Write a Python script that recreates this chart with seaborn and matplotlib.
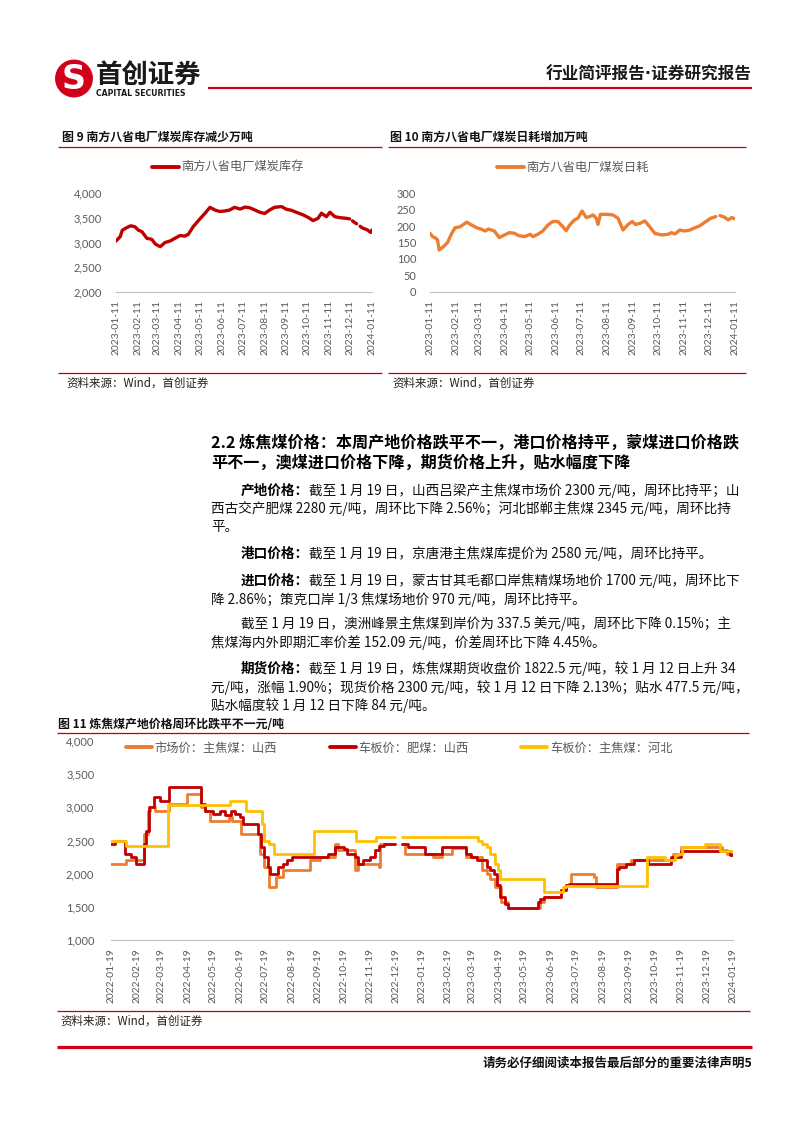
import numpy as np
import pandas as pd
import matplotlib
matplotlib.use("Agg")
import matplotlib.pyplot as plt
import matplotlib.dates as mdates
from matplotlib.lines import Line2D
from matplotlib.patches import Circle
from matplotlib.ticker import FuncFormatter, MultipleLocator
import seaborn as sns

# ------------------------------------------------------------------ data
# Fig 9: 南方八省电厂煤炭库存 (万吨); NaN marks a gap in the line
inv_dates = ["2023-01-11", "2023-01-17", "2023-01-20", "2023-01-26", "2023-02-01", "2023-02-07",
             "2023-02-12", "2023-02-17", "2023-02-24", "2023-03-03", "2023-03-08", "2023-03-15",
             "2023-03-22", "2023-03-29", "2023-04-05", "2023-04-12", "2023-04-19", "2023-04-24",
             "2023-05-01", "2023-05-10", "2023-05-18", "2023-05-25", "2023-06-01", "2023-06-08",
             "2023-06-15", "2023-06-22", "2023-06-29", "2023-07-07", "2023-07-14", "2023-07-21",
             "2023-07-28", "2023-08-04", "2023-08-11", "2023-08-18", "2023-08-25", "2023-09-04",
             "2023-09-11", "2023-09-18", "2023-09-25", "2023-10-05", "2023-10-12", "2023-10-19",
             "2023-10-26", "2023-10-31", "2023-11-07", "2023-11-12", "2023-11-19", "2023-11-26",
             "2023-12-06", "2023-12-10", "2023-12-12", "2023-12-14", "2023-12-20", "2023-12-22",
             "2023-12-25", "2023-12-29", "2024-01-04", "2024-01-09", "2024-01-11"]
inv_values = [3030, 3120, 3250, 3300, 3340, 3320,
              3250, 3220, 3085, 3065, 2970, 2915,
              3000, 3030, 3085, 3140, 3130, 3165,
              3320, 3470, 3595, 3715, 3660, 3630,
              3640, 3660, 3715, 3680, 3720, 3705,
              3660, 3615, 3590, 3660, 3715, 3730,
              3675, 3655, 3615, 3560, 3510, 3445,
              3490, 3595, 3525, 3615, 3525, 3505,
              3490, 3480, np.nan, 3440, 3380, np.nan,
              3330, 3290, 3260, 3205, 3255]

# Fig 10: 南方八省电厂煤炭日耗 (万吨)
use_dates = ["2023-01-11", "2023-01-14", "2023-01-18", "2023-01-20", "2023-01-22", "2023-01-27",
             "2023-02-01", "2023-02-06", "2023-02-10", "2023-02-16", "2023-02-24", "2023-03-02",
             "2023-03-08", "2023-03-14", "2023-03-18", "2023-03-22", "2023-03-29", "2023-04-04",
             "2023-04-10", "2023-04-16", "2023-04-22", "2023-04-27", "2023-05-04", "2023-05-11",
             "2023-05-14", "2023-05-20", "2023-05-26", "2023-06-01", "2023-06-07", "2023-06-13",
             "2023-06-19", "2023-06-23", "2023-06-27", "2023-07-03", "2023-07-07", "2023-07-12",
             "2023-07-17", "2023-07-21", "2023-07-25", "2023-07-29", "2023-07-31", "2023-08-03",
             "2023-08-10", "2023-08-18", "2023-08-24", "2023-08-30", "2023-09-05", "2023-09-10",
             "2023-09-14", "2023-09-20", "2023-09-25", "2023-10-01", "2023-10-07", "2023-10-15",
             "2023-10-23", "2023-10-27", "2023-10-31", "2023-11-06", "2023-11-12", "2023-11-18",
             "2023-11-24", "2023-11-30", "2023-12-06", "2023-12-13", "2023-12-19", "2023-12-21",
             "2023-12-24", "2023-12-28", "2024-01-03", "2024-01-07", "2024-01-11"]
use_values = [178, 168, 163, 158, 127, 137,
              150, 178, 195, 198, 212, 203,
              195, 190, 185, 191, 185, 165,
              173, 180, 178, 171, 168, 175,
              168, 175, 185, 203, 214, 214,
              198, 186, 203, 219, 224, 246,
              226, 229, 234, 224, 205, 236,
              236, 234, 224, 188, 205, 214,
              205, 209, 216, 198, 178, 173,
              175, 180, 176, 188, 185, 188,
              195, 201, 212, 224, 229, np.nan,
              232, 229, 219, 226, 222]

# Fig 11: 炼焦煤产地价格 (元/吨), change points of step series; NaN marks the gap
mkt_dates = ["2022-01-19", "2022-02-06", "2022-02-27", "2022-03-04", "2022-03-06", "2022-03-12",
             "2022-03-28", "2022-04-18", "2022-05-05", "2022-05-09", "2022-05-15", "2022-06-06",
             "2022-06-10", "2022-06-21", "2022-07-13", "2022-07-17", "2022-07-23", "2022-08-01",
             "2022-08-09", "2022-09-10", "2022-09-21", "2022-10-09", "2022-10-13", "2022-11-01",
             "2022-11-05", "2022-11-29", "2022-12-01", "2022-12-18", "2022-12-20", "2022-12-26",
             "2022-12-30", "2023-02-01", "2023-02-11", "2023-02-23", "2023-03-12", "2023-03-30",
             "2023-04-05", "2023-04-09", "2023-04-15", "2023-04-22", "2023-04-30", "2023-06-07",
             "2023-06-11", "2023-07-01", "2023-07-07", "2023-07-13", "2023-08-09", "2023-08-11",
             "2023-09-05", "2023-09-21", "2023-11-10", "2023-11-19", "2024-01-06", "2024-01-12",
             "2024-01-19"]
mkt_values = [2150, 2200, 2600, 2950, 3000, 2950,
              3050, 3200, 3000, 2950, 2800, 2850,
              2800, 2600, 2300, 2100, 1800, 1950,
              2050, 2200, 2250, 2450, 2350, 2050,
              2150, 2100, 2450, 2450, np.nan, 2450,
              2300, 2250, 2300, 2380, 2250, 2050,
              2000, 1925, 1800, 1575, 1475, 1575,
              1650, 1750, 1825, 2000, 1950, 1800,
              2150, 2200, 2300, 2400, 2350, 2300,
              2300]

fat_dates = ["2022-01-19", "2022-01-24", "2022-02-04", "2022-02-12", "2022-02-17", "2022-02-27",
             "2022-03-01", "2022-03-05", "2022-03-11", "2022-03-17", "2022-03-28", "2022-05-05",
             "2022-05-09", "2022-05-19", "2022-05-27", "2022-06-02", "2022-06-09", "2022-06-13",
             "2022-06-19", "2022-06-23", "2022-07-11", "2022-07-14", "2022-07-18", "2022-07-22",
             "2022-07-25", "2022-08-03", "2022-08-09", "2022-08-13", "2022-08-19", "2022-10-01",
             "2022-10-09", "2022-10-19", "2022-10-23", "2022-11-01", "2022-11-05", "2022-11-11",
             "2022-11-19", "2022-11-25", "2022-11-29", "2022-12-05", "2022-12-18", "2022-12-20",
             "2022-12-26", "2023-01-03", "2023-01-23", "2023-02-11", "2023-03-12", "2023-03-18",
             "2023-03-24", "2023-04-05", "2023-04-09", "2023-04-13", "2023-04-17", "2023-04-20",
             "2023-04-26", "2023-04-30", "2023-06-04", "2023-06-07", "2023-06-11", "2023-07-01",
             "2023-07-07", "2023-07-11", "2023-09-05", "2023-09-07", "2023-09-15", "2023-09-25",
             "2023-10-11", "2023-11-07", "2023-11-19", "2024-01-12", "2024-01-15", "2024-01-19"]
fat_values = [2450, 2500, 2300, 2250, 2150, 2450,
              2650, 3000, 3150, 3100, 3300, 3050,
              2950, 2900, 2950, 2880, 2950, 2900,
              2850, 2750, 2600, 2400, 2250, 2100,
              2000, 2100, 2150, 2200, 2250, 2300,
              2400, 2375, 2300, 2250, 2150, 2200,
              2250, 2350, 2420, 2450, 2450, np.nan,
              2450, 2400, 2300, 2400, 2300, 2250,
              2200, 2100, 2050, 2000, 1825, 1650,
              1550, 1475, 1575, 1625, 1650, 1750,
              1825, 1850, 2075, 2100, 2150, 2200,
              2150, 2250, 2340, 2340, 2280, 2280]

heb_dates = ["2022-01-19", "2022-02-06", "2022-03-27", "2022-06-08", "2022-06-27", "2022-07-15",
             "2022-07-17", "2022-07-23", "2022-07-29", "2022-09-14", "2022-11-03", "2022-11-26",
             "2022-12-18", "2022-12-20", "2022-12-26", "2023-03-26", "2023-03-30", "2023-04-05",
             "2023-04-09", "2023-04-15", "2023-04-18", "2023-04-21", "2023-06-11", "2023-07-03",
             "2023-07-07", "2023-10-10", "2023-10-31", "2023-11-12", "2023-11-16", "2023-11-20",
             "2023-12-17", "2024-01-04", "2024-01-19"]
heb_values = [2500, 2420, 3030, 3100, 2950, 2750,
              2500, 2450, 2300, 2650, 2500, 2550,
              2550, np.nan, 2550, 2500, 2450, 2400,
              2300, 2150, 2050, 1925, 1725, 1800,
              1810, 2250, 2200, 2275, 2300, 2400,
              2450, 2345, 2345]

series_names = ["市场价：主焦煤：山西", "车板价：肥煤：山西", "车板价：主焦煤：河北"]

ticks_2023 = ["2023-01-11", "2023-02-11", "2023-03-11", "2023-04-11", "2023-05-11", "2023-06-11",
              "2023-07-11", "2023-08-11", "2023-09-11", "2023-10-11", "2023-11-11", "2023-12-11",
              "2024-01-11"]
ticks_2y = ["2022-01-19", "2022-02-19", "2022-03-19", "2022-04-19", "2022-05-19", "2022-06-19",
            "2022-07-19", "2022-08-19", "2022-09-19", "2022-10-19", "2022-11-19", "2022-12-19",
            "2023-01-19", "2023-02-19", "2023-03-19", "2023-04-19", "2023-05-19", "2023-06-19",
            "2023-07-19", "2023-08-19", "2023-09-19", "2023-10-19", "2023-11-19", "2023-12-19",
            "2024-01-19"]

# ------------------------------------------------------------------ style
sns.set_theme(style="white")
plt.rcParams["font.family"] = ["Noto Sans CJK SC", "DejaVu Sans"]
plt.rcParams["axes.unicode_minus"] = False

RED = "#C00000"
ORANGE = "#ED7D31"
YELLOW = "#FFC000"
GRAY = "#595959"
BRAND = "#D2001A"
TICKFONT = ["Lato", "DejaVu Sans"]

W, H = 802, 1133
fig = plt.figure(figsize=(W / 100, H / 100), dpi=100)
fig.patch.set_facecolor("white")


def fx(x):
    return x / W


def fy(y):
    return 1 - y / H


def ftext(x, y, s, **kw):
    kw.setdefault("va", "center")
    return fig.text(fx(x), fy(y), s, **kw)


def hline(x0, x1, y, color, lw):
    fig.add_artist(Line2D([fx(x0), fx(x1)], [fy(y), fy(y)], color=color, lw=lw,
                          transform=fig.transFigure, solid_capstyle="butt"))


def make_df(dates, values, name):
    d = pd.DataFrame({"date": pd.to_datetime(dates), "value": values})
    d["seg"] = d["value"].isna().cumsum()
    d = d.dropna().copy()
    d["series"] = name
    return d


def style_axes(ax, ticks, ylim, ystep, ypad, labelsize):
    ax.set_ylim(*ylim)
    ax.yaxis.set_major_locator(MultipleLocator(ystep))
    ax.yaxis.set_major_formatter(FuncFormatter(lambda v, p: f"{v:,.0f}"))
    t = pd.to_datetime(ticks)
    ax.set_xlim(t[0], t[-1])
    ax.set_xticks(t)
    ax.xaxis.set_major_formatter(mdates.DateFormatter("%Y-%m-%d"))
    for s in ["top", "right", "left"]:
        ax.spines[s].set_visible(False)
    ax.spines["bottom"].set_color("#BFBFBF")
    ax.spines["bottom"].set_linewidth(0.8)
    ax.tick_params(axis="x", direction="out", length=3, width=0.8, color="#BFBFBF",
                   labelsize=labelsize, labelcolor=GRAY, pad=3, rotation=90)
    ax.tick_params(axis="y", length=0, labelsize=labelsize + 0.5, labelcolor=GRAY, pad=ypad)
    for lab in ax.get_xticklabels() + ax.get_yticklabels():
        lab.set_fontfamily(TICKFONT)
    ax.set_xlabel("")
    ax.set_ylabel("")
    ax.grid(False)
    ax.set_facecolor("white")


# ------------------------------------------------------------------ header
logo = fig.add_axes([fx(55), fy(98), 38 / W, 39 / H])
logo.set_xlim(0, 1)
logo.set_ylim(0, 1)
logo.set_aspect("equal")
logo.axis("off")
logo.add_patch(Circle((0.5, 0.5), 0.48, color=BRAND))
logo.text(0.5, 0.47, "S", color="white", fontsize=24, fontweight="heavy", ha="center",
          va="center", family=["DejaVu Sans"])
ftext(96, 75, "首创证券", fontsize=19, fontweight="bold", color="#1A1A1A", ha="left")
ftext(96, 93, "CAPITAL SECURITIES", fontsize=5.6, fontweight="bold", color="#1A1A1A", ha="left",
      family=["DejaVu Sans"])
ftext(752, 75, "行业简评报告·证券研究报告", fontsize=12, fontweight="bold", color="#1A1A1A", ha="right",
      family=["DejaVu Sans", "Noto Sans CJK SC"])
hline(208, 752, 88, BRAND, 1.6)

# ------------------------------------------------------------------ fig 9 / fig 10 titles
ftext(62, 137, "图 9 南方八省电厂煤炭库存减少万吨", fontsize=8.6, fontweight="bold", ha="left", color="#111111")
ftext(390, 137, "图 10 南方八省电厂煤炭日耗增加万吨", fontsize=8.6, fontweight="bold", ha="left", color="#111111")
hline(58, 382, 147, RED, 0.9)
hline(388, 746, 147, RED, 0.9)

# ------------------------------------------------------------------ fig 9
df9 = make_df(inv_dates, inv_values, "南方八省电厂煤炭库存")
ax9 = fig.add_axes([fx(116), fy(291.7), (372 - 116) / W, (291.7 - 193.3) / H])
sns.lineplot(data=df9, x="date", y="value", hue="series", units="seg", estimator=None,
             palette={"南方八省电厂煤炭库存": RED}, lw=2.4, ax=ax9)
style_axes(ax9, ticks_2023, (2000, 4000), 500, 10, 7.4)
sns.move_legend(ax9, "center", bbox_to_anchor=(fx(228), fy(167.5)), bbox_transform=fig.transFigure,
                frameon=False, title=None, fontsize=8.8, handlelength=2.2, handletextpad=0.25,
                borderpad=0, labelcolor=GRAY)
for h in ax9.get_legend().legend_handles:
    h.set_linewidth(2.8)

# ------------------------------------------------------------------ fig 10
df10 = make_df(use_dates, use_values, "南方八省电厂煤炭日耗")
ax10 = fig.add_axes([fx(430), fy(291.7), (735 - 430) / W, (291.7 - 193.3) / H])
sns.lineplot(data=df10, x="date", y="value", hue="series", units="seg", estimator=None,
             palette={"南方八省电厂煤炭日耗": ORANGE}, lw=2.4, ax=ax10)
style_axes(ax10, ticks_2023, (0, 300), 50, 10, 7.4)
sns.move_legend(ax10, "center", bbox_to_anchor=(fx(573), fy(167.5)), bbox_transform=fig.transFigure,
                frameon=False, title=None, fontsize=8.8, handlelength=2.2, handletextpad=0.25,
                borderpad=0, labelcolor=GRAY)
for h in ax10.get_legend().legend_handles:
    h.set_linewidth(2.8)

# sources under fig 9 / 10
hline(58, 382, 373, RED, 0.9)
hline(388, 746, 373, RED, 0.9)
ftext(66, 383, "资料来源：Wind，首创证券", fontsize=8.3, ha="left", style="italic", color="#222222")
ftext(392, 383, "资料来源：Wind，首创证券", fontsize=8.3, ha="left", style="italic", color="#222222")

# ------------------------------------------------------------------ section text
ftext(211, 443, "2.2 炼焦煤价格：本周产地价格跌平不一，港口价格持平，蒙煤进口价格跌",
      fontsize=11.6, fontweight="bold", ha="left", color="#000000")
ftext(211, 463, "平不一，澳煤进口价格下降，期货价格上升，贴水幅度下降",
      fontsize=11.6, fontweight="bold", ha="left", color="#000000")

BODY = 9.8
renderer = fig.canvas.get_renderer()


def para_line(x, y, bold, rest):
    if bold:
        t = ftext(x, y, bold, fontsize=BODY, fontweight="bold", ha="left", color="#000000")
        bb = t.get_window_extent(renderer=renderer)
        x = x + bb.width
    ftext(x, y, rest, fontsize=BODY, ha="left", color="#111111")


para_line(241, 491, "产地价格：", "截至 1 月 19 日，山西吕梁产主焦煤市场价 2300 元/吨，周环比持平；山")
para_line(211, 509, "", "西古交产肥煤 2280 元/吨，周环比下降 2.56%；河北邯郸主焦煤 2345 元/吨，周环比持")
para_line(211, 527, "", "平。")
para_line(241, 554, "港口价格：", "截至 1 月 19 日，京唐港主焦煤库提价为 2580 元/吨，周环比持平。")
para_line(241, 581, "进口价格：", "截至 1 月 19 日，蒙古甘其毛都口岸焦精煤场地价 1700 元/吨，周环比下")
para_line(211, 600, "", "降 2.86%；策克口岸 1/3 焦煤场地价 970 元/吨，周环比持平。")
para_line(241, 624, "", "截至 1 月 19 日，澳洲峰景主焦煤到岸价为 337.5 美元/吨，周环比下降 0.15%；主")
para_line(211, 643, "", "焦煤海内外即期汇率价差 152.09 元/吨，价差周环比下降 4.45%。")
para_line(241, 669, "期货价格：", "截至 1 月 19 日，炼焦煤期货收盘价 1822.5 元/吨，较 1 月 12 日上升 34")
para_line(211, 688, "", "元/吨，涨幅 1.90%；现货价格 2300 元/吨，较 1 月 12 日下降 2.13%；贴水 477.5 元/吨，")
para_line(211, 706, "", "贴水幅度较 1 月 12 日下降 84 元/吨。")

# ------------------------------------------------------------------ fig 11
ftext(58, 724, "图 11 炼焦煤产地价格周环比跌平不一元/吨", fontsize=8.6, fontweight="bold", ha="left",
      color="#111111")
hline(57, 749, 733, RED, 0.9)

df11 = pd.concat([make_df(mkt_dates, mkt_values, series_names[0]),
                  make_df(fat_dates, fat_values, series_names[1]),
                  make_df(heb_dates, heb_values, series_names[2])], ignore_index=True)
ax11 = fig.add_axes([fx(111), fy(940), (733 - 111) / W, (940 - 741) / H])
sns.lineplot(data=df11, x="date", y="value", hue="series", units="seg", estimator=None,
             hue_order=series_names,
             palette={series_names[0]: ORANGE, series_names[1]: RED, series_names[2]: YELLOW},
             lw=2.0, drawstyle="steps-post", ax=ax11)
style_axes(ax11, ticks_2y, (1000, 4000), 500, 12, 7.4)
sns.move_legend(ax11, "center left", bbox_to_anchor=(fx(120), fy(748)), bbox_transform=fig.transFigure,
                frameon=False, title=None, fontsize=8.8, ncol=3, handlelength=2.1, handletextpad=0.25,
                columnspacing=4.3, borderpad=0, labelcolor=GRAY)
for h in ax11.get_legend().legend_handles:
    h.set_linewidth(2.8)

hline(57, 750, 1011, RED, 0.9)
ftext(60, 1021, "资料来源：Wind，首创证券", fontsize=8.3, ha="left", style="italic", color="#222222")

# ------------------------------------------------------------------ footer
hline(57, 752, 1047, BRAND, 2.3)
ftext(752, 1063, "请务必仔细阅读本报告最后部分的重要法律声明5", fontsize=9, fontweight="bold", ha="right",
      color="#111111")

fig.savefig("out.png", dpi=100, facecolor="white")
